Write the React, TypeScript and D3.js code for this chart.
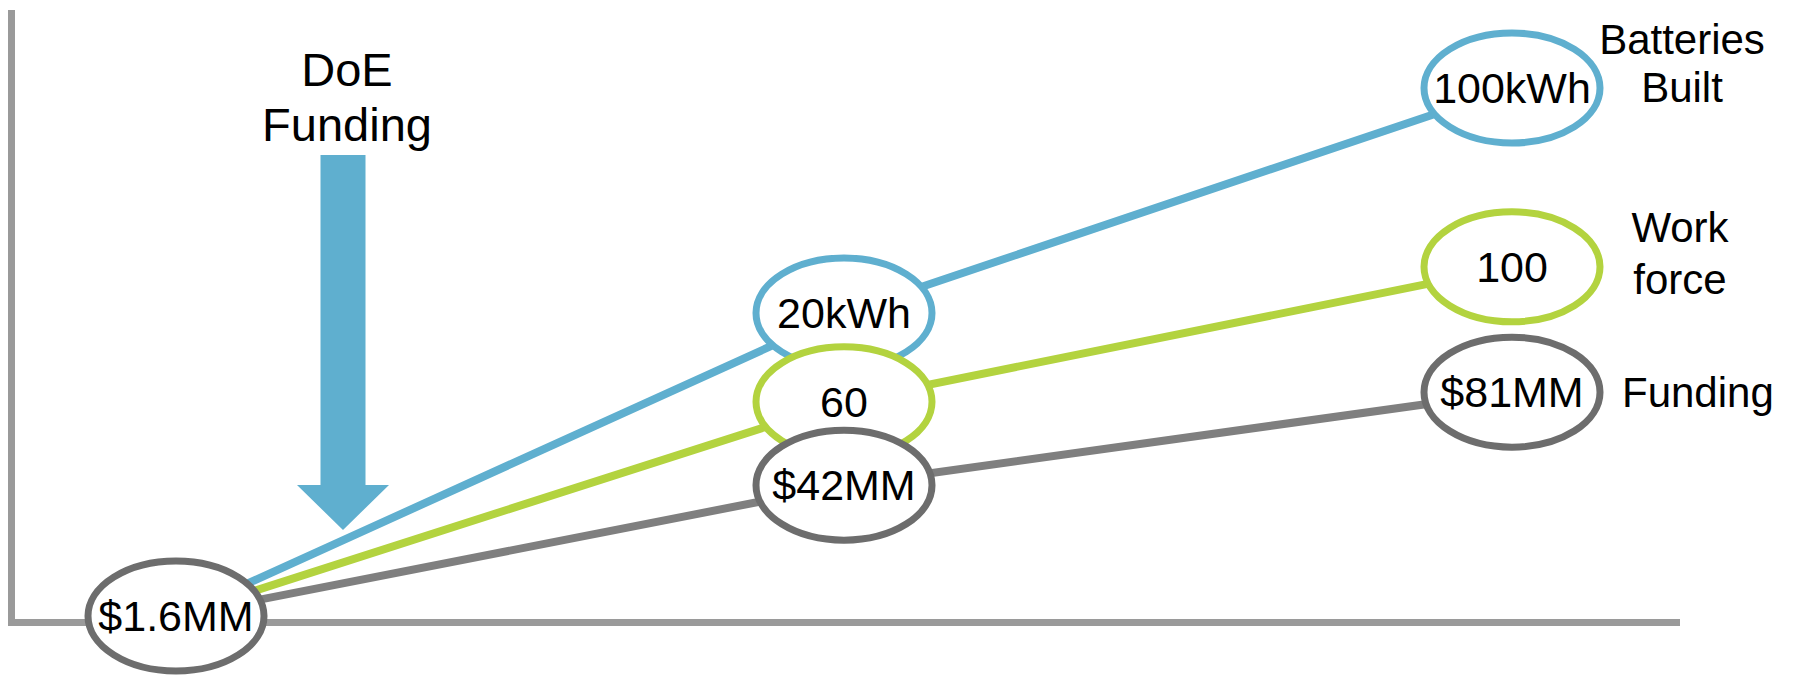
import React from "react";
import * as d3 from "d3";

// ---- data ----
const stages = [0, 1, 2];
const batteriesLabels = ["$1.6MM", "20kWh", "100kWh"];
const batteriesLevels = [1, 51.5, 89];
const workforceLabels = ["$1.6MM", "60", "100"];
const workforceLevels = [1, 36.7, 59.2];
const fundingLabels = ["$1.6MM", "$42MM", "$81MM"];
const fundingLevels = [1, 22.8, 38.3];
const seriesNames = [["Batteries", "Built"], ["Work", "force"], ["Funding"]];
const doeStage = 0.25;
const doeTitle = ["DoE", "Funding"];

const W = 1794;
const H = 675;
const FONT = "'Liberation Sans', Arial, Helvetica, sans-serif";

const COLORS = { blue: "#5fafcf", green: "#b3d33f", grey: "#7f7f7f", greyRing: "#6d6d6d", axis: "#9a9a9a" };

export default function App() {
  const x = d3.scaleLinear().domain([0, 2]).range([176, 1512]);
  const y = d3.scaleLinear().domain([0, 100]).range([622, 22]);

  const series = [
    { labels: batteriesLabels, levels: batteriesLevels, line: COLORS.blue, ring: COLORS.blue, name: seriesNames[0] },
    { labels: workforceLabels, levels: workforceLevels, line: COLORS.green, ring: COLORS.green, name: seriesNames[1] },
    { labels: fundingLabels, levels: fundingLevels, line: COLORS.grey, ring: COLORS.greyRing, name: seriesNames[2] },
  ];

  const lineGen = d3.line<number>().x((_, i) => x(stages[i])).y((d) => y(d));

  const rx = 88;
  const ry = 55;

  const node = (cx: number, cy: number, label: string, ring: string, key: string) => (
    <g key={key}>
      <ellipse cx={cx} cy={cy} rx={rx} ry={ry} fill="#fff" stroke={ring} strokeWidth={7} />
      <text x={cx} y={cy + 15} textAnchor="middle" fontSize={43} fontFamily={FONT} fill="#000">
        {label}
      </text>
    </g>
  );

  // arrow geometry (DoE funding)
  const ax = x(doeStage);
  const shaftTop = 155;
  const headY = 485;
  const tipY = 530;
  const arrowPath = d3.path();
  arrowPath.moveTo(ax - 22.5, shaftTop);
  arrowPath.lineTo(ax + 22.5, shaftTop);
  arrowPath.lineTo(ax + 22.5, headY);
  arrowPath.lineTo(ax + 46, headY);
  arrowPath.lineTo(ax, tipY);
  arrowPath.lineTo(ax - 46, headY);
  arrowPath.lineTo(ax - 22.5, headY);
  arrowPath.closePath();

  return (
    <svg
      width={W}
      height={H}
      viewBox={`0 0 ${W} ${H}`}
      style={{ position: "absolute", left: 0, top: 0, background: "#fff" }}
    >
      {/* axes */}
      <line x1={11.5} y1={10} x2={11.5} y2={626} stroke={COLORS.axis} strokeWidth={7} />
      <line x1={8} y1={622.5} x2={1680} y2={622.5} stroke={COLORS.axis} strokeWidth={7} />

      {/* DoE arrow & title */}
      <path d={arrowPath.toString()} fill={COLORS.blue} />
      <text x={ax + 4} y={86} textAnchor="middle" fontSize={47} fontFamily={FONT} fill="#000">
        {doeTitle[0]}
      </text>
      <text x={ax + 4} y={141} textAnchor="middle" fontSize={47} fontFamily={FONT} fill="#000">
        {doeTitle[1]}
      </text>

      {/* connecting lines */}
      {series.map((s, i) => (
        <path key={"l" + i} d={lineGen(s.levels) || ""} fill="none" stroke={s.line} strokeWidth={8} />
      ))}

      {/* end nodes */}
      {series.map((s, i) => node(x(stages[2]), y(s.levels[2]), s.labels[2], s.ring, "e" + i))}
      {/* middle nodes: blue, then green, then grey on top */}
      {series.map((s, i) => node(x(stages[1]), y(s.levels[1]), s.labels[1], s.ring, "m" + i))}
      {/* shared start node */}
      {node(x(stages[0]), y(fundingLevels[0]), fundingLabels[0], COLORS.greyRing, "start")}

      {/* series names */}
      <text x={x(2) + 170} y={y(batteriesLevels[2]) - 34} textAnchor="middle" fontSize={42} fontFamily={FONT}>
        {seriesNames[0][0]}
      </text>
      <text x={x(2) + 170} y={y(batteriesLevels[2]) + 14} textAnchor="middle" fontSize={42} fontFamily={FONT}>
        {seriesNames[0][1]}
      </text>
      <text x={x(2) + 168} y={y(workforceLevels[2]) - 25} textAnchor="middle" fontSize={42} fontFamily={FONT}>
        {seriesNames[1][0]}
      </text>
      <text x={x(2) + 168} y={y(workforceLevels[2]) + 27} textAnchor="middle" fontSize={42} fontFamily={FONT}>
        {seriesNames[1][1]}
      </text>
      <text x={x(2) + 110} y={y(fundingLevels[2]) + 15} textAnchor="start" fontSize={42} fontFamily={FONT}>
        {seriesNames[2][0]}
      </text>
    </svg>
  );
}
